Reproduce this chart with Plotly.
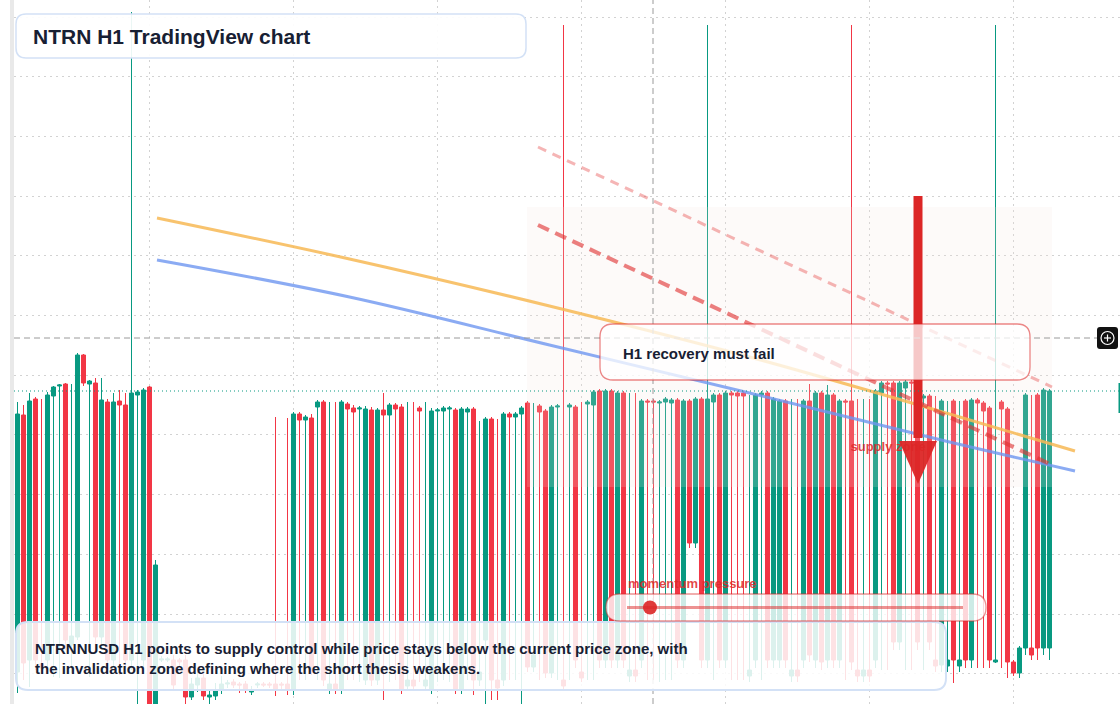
import plotly.graph_objects as go
import pandas as pd

GREEN = "#089981"
RED = "#F23645"
FONT = "Liberation Sans, Arial, sans-serif"
INK = "#172033"

# ---------------- data ----------------
start = pd.Timestamp("2025-11-17 02:00")
times = pd.date_range(start, periods=173, freq="h")

open_ = [
    0.0128, 0.0385, 0.0140, 0.0401, 0.0136, 0.0140, 0.0404, 0.0414, 0.0416, 0.0155,
    0.0163, 0.0445, 0.0416, 0.0417, 0.0163, 0.0398, 0.0140, 0.0399, 0.0395, 0.0140,
    0.0405, 0.0140, 0.0413, 0.0088, 0.0140, 0.0140, 0.0140, 0.0140, 0.0140, 0.0103,
    0.0115, 0.0122, 0.0103, 0.0104, 0.0110, 0.0116, 0.0118, 0.0116, 0.0116, 0.0108,
    0.0115, 0.0116, 0.0116, 0.0116, 0.0116, 0.0116, 0.0110, 0.0386, 0.0380, 0.0382,
    0.0393, 0.0398, 0.0110, 0.0116, 0.0110, 0.0396, 0.0392, 0.0391, 0.0120, 0.0390,
    0.0120, 0.0390, 0.0385, 0.0395, 0.0393, 0.0114, 0.0120, 0.0392, 0.0114, 0.0110,
    0.0389, 0.0389, 0.0391, 0.0390, 0.0110, 0.0388, 0.0391, 0.0120, 0.0160, 0.0381,
    0.0120, 0.0120, 0.0386, 0.0383, 0.0386, 0.0397, 0.0133, 0.0394, 0.0389, 0.0127,
    0.0393, 0.0120, 0.0393, 0.0393, 0.0128, 0.0396, 0.0395, 0.0409, 0.0140, 0.0409,
    0.0140, 0.0407, 0.0124, 0.0130, 0.0140, 0.0399, 0.0399, 0.0397, 0.0398, 0.0397,
    0.0400, 0.0140, 0.0399, 0.0257, 0.0401, 0.0140, 0.0398, 0.0405, 0.0140, 0.0407,
    0.0407, 0.0407, 0.0124, 0.0140, 0.0405, 0.0407, 0.0140, 0.0140, 0.0399, 0.0124,
    0.0130, 0.0140, 0.0399, 0.0140, 0.0407, 0.0140, 0.0405, 0.0140, 0.0399, 0.0399,
    0.0130, 0.0124, 0.0130, 0.0140, 0.0407, 0.0417, 0.0417, 0.0158, 0.0412, 0.0418,
    0.0410, 0.0402, 0.0404, 0.0140, 0.0135, 0.0134, 0.0399, 0.0134, 0.0399, 0.0140,
    0.0400, 0.0397, 0.0392, 0.0138, 0.0398, 0.0391, 0.0138, 0.0127, 0.0152, 0.0152,
    0.0405, 0.0152, 0.0152,
]
high = [
    0.0398, 0.0395, 0.0407, 0.0403, 0.0401, 0.0408, 0.0414, 0.0416, 0.0417, 0.0416,
    0.0447, 0.0446, 0.0420, 0.0422, 0.0422, 0.0401, 0.0407, 0.0410, 0.0407, 0.0788,
    0.0410, 0.0412, 0.0414, 0.0240, 0.0144, 0.0143, 0.0145, 0.0142, 0.0145, 0.0122,
    0.0128, 0.0128, 0.0110, 0.0117, 0.0124, 0.0120, 0.0121, 0.0118, 0.0119, 0.0114,
    0.0118, 0.0118, 0.0118, 0.0383, 0.0118, 0.0382, 0.0388, 0.0388, 0.0385, 0.0386,
    0.0400, 0.0400, 0.0398, 0.0398, 0.0400, 0.0398, 0.0395, 0.0394, 0.0394, 0.0393,
    0.0392, 0.0407, 0.0397, 0.0397, 0.0396, 0.0398, 0.0398, 0.0394, 0.0398, 0.0392,
    0.0392, 0.0394, 0.0394, 0.0392, 0.0393, 0.0393, 0.0393, 0.0379, 0.0383, 0.0383,
    0.0381, 0.0388, 0.0388, 0.0388, 0.0394, 0.0399, 0.0397, 0.0396, 0.0391, 0.0395,
    0.0396, 0.0775, 0.0397, 0.0395, 0.0398, 0.0400, 0.0410, 0.0411, 0.0411, 0.0411,
    0.0409, 0.0409, 0.0407, 0.0407, 0.0401, 0.0401, 0.0401, 0.0400, 0.0403, 0.0402,
    0.0402, 0.0401, 0.0401, 0.0403, 0.0403, 0.0775, 0.0407, 0.0407, 0.0409, 0.0409,
    0.0409, 0.0409, 0.0405, 0.0407, 0.0409, 0.0409, 0.0403, 0.0401, 0.0401, 0.0401,
    0.0401, 0.0401, 0.0416, 0.0409, 0.0409, 0.0415, 0.0407, 0.0401, 0.0401, 0.0775,
    0.0401, 0.0401, 0.0401, 0.0411, 0.0419, 0.0419, 0.0419, 0.0419, 0.0420, 0.0420,
    0.0412, 0.0406, 0.0406, 0.0404, 0.0401, 0.0399, 0.0401, 0.0399, 0.0401, 0.0402,
    0.0402, 0.0399, 0.0394, 0.0775, 0.0400, 0.0393, 0.0140, 0.0154, 0.0407, 0.0405,
    0.0407, 0.0412, 0.0411,
]
low = [
    0.0107, 0.0120, 0.0113, 0.0130, 0.0128, 0.0132, 0.0123, 0.0122, 0.0150, 0.0127,
    0.0160, 0.0414, 0.0123, 0.0150, 0.0155, 0.0135, 0.0132, 0.0125, 0.0132, 0.0130,
    0.0095, 0.0132, 0.0080, 0.0080, 0.0138, 0.0138, 0.0110, 0.0130, 0.0094, 0.0100,
    0.0108, 0.0100, 0.0096, 0.0100, 0.0106, 0.0112, 0.0112, 0.0107, 0.0107, 0.0105,
    0.0112, 0.0113, 0.0112, 0.0104, 0.0110, 0.0105, 0.0105, 0.0120, 0.0120, 0.0125,
    0.0120, 0.0114, 0.0106, 0.0106, 0.0106, 0.0120, 0.0120, 0.0118, 0.0115, 0.0114,
    0.0115, 0.0100, 0.0118, 0.0120, 0.0106, 0.0110, 0.0110, 0.0118, 0.0110, 0.0106,
    0.0118, 0.0120, 0.0118, 0.0106, 0.0106, 0.0120, 0.0105, 0.0114, 0.0096, 0.0100,
    0.0100, 0.0114, 0.0120, 0.0120, 0.0095, 0.0128, 0.0128, 0.0120, 0.0122, 0.0122,
    0.0120, 0.0110, 0.0120, 0.0132, 0.0118, 0.0120, 0.0120, 0.0132, 0.0132, 0.0132,
    0.0132, 0.0132, 0.0118, 0.0118, 0.0132, 0.0120, 0.0120, 0.0118, 0.0120, 0.0120,
    0.0132, 0.0132, 0.0252, 0.0252, 0.0132, 0.0132, 0.0120, 0.0132, 0.0132, 0.0120,
    0.0120, 0.0120, 0.0118, 0.0132, 0.0120, 0.0132, 0.0132, 0.0132, 0.0132, 0.0118,
    0.0118, 0.0132, 0.0138, 0.0132, 0.0130, 0.0132, 0.0132, 0.0132, 0.0120, 0.0130,
    0.0118, 0.0118, 0.0118, 0.0132, 0.0130, 0.0130, 0.0150, 0.0150, 0.0130, 0.0130,
    0.0150, 0.0130, 0.0150, 0.0128, 0.0128, 0.0128, 0.0117, 0.0128, 0.0132, 0.0132,
    0.0132, 0.0132, 0.0132, 0.0137, 0.0132, 0.0122, 0.0124, 0.0122, 0.0145, 0.0140,
    0.0140, 0.0145, 0.0140,
]
close = [
    0.0386, 0.0137, 0.0399, 0.0140, 0.0132, 0.0405, 0.0413, 0.0415, 0.0160, 0.0164,
    0.0445, 0.0417, 0.0419, 0.0163, 0.0400, 0.0140, 0.0398, 0.0395, 0.0140, 0.0407,
    0.0408, 0.0410, 0.0088, 0.0235, 0.0141, 0.0141, 0.0115, 0.0138, 0.0103, 0.0116,
    0.0122, 0.0104, 0.0105, 0.0110, 0.0116, 0.0117, 0.0115, 0.0115, 0.0110, 0.0110,
    0.0116, 0.0115, 0.0115, 0.0110, 0.0115, 0.0110, 0.0386, 0.0380, 0.0383, 0.0133,
    0.0398, 0.0120, 0.0116, 0.0110, 0.0398, 0.0391, 0.0388, 0.0392, 0.0391, 0.0120,
    0.0390, 0.0385, 0.0395, 0.0391, 0.0110, 0.0120, 0.0114, 0.0389, 0.0120, 0.0389,
    0.0390, 0.0392, 0.0392, 0.0110, 0.0391, 0.0391, 0.0120, 0.0128, 0.0381, 0.0120,
    0.0112, 0.0386, 0.0383, 0.0386, 0.0392, 0.0133, 0.0145, 0.0388, 0.0127, 0.0393,
    0.0394, 0.0114, 0.0395, 0.0140, 0.0122, 0.0398, 0.0408, 0.0140, 0.0409, 0.0140,
    0.0407, 0.0140, 0.0130, 0.0124, 0.0399, 0.0398, 0.0398, 0.0398, 0.0401, 0.0400,
    0.0140, 0.0399, 0.0257, 0.0401, 0.0140, 0.0401, 0.0405, 0.0140, 0.0407, 0.0405,
    0.0404, 0.0404, 0.0130, 0.0405, 0.0407, 0.0140, 0.0401, 0.0399, 0.0140, 0.0130,
    0.0124, 0.0399, 0.0145, 0.0407, 0.0138, 0.0405, 0.0140, 0.0399, 0.0398, 0.0138,
    0.0124, 0.0130, 0.0124, 0.0409, 0.0417, 0.0416, 0.0158, 0.0417, 0.0418, 0.0417,
    0.0158, 0.0404, 0.0158, 0.0134, 0.0399, 0.0140, 0.0140, 0.0140, 0.0140, 0.0400,
    0.0397, 0.0389, 0.0140, 0.0140, 0.0391, 0.0138, 0.0127, 0.0152, 0.0405, 0.0145,
    0.0152, 0.0410, 0.0409,
]

# moving-average style guide lines
ema_t = ["2025-11-18 01:15", "2025-11-19 09:20", "2025-11-20 18:40",
         "2025-11-22 04:00", "2025-11-23 13:20", "2025-11-24 10:15"]
ema_fast = [0.0582, 0.0541, 0.0494, 0.0443, 0.0386, 0.0349]
ema_slow = [0.0540, 0.0503, 0.0455, 0.0407, 0.0358, 0.0329]

# descending supply trend lines
trend_t = ["2025-11-20 16:45", "2025-11-24 06:25"]
trend_main = [0.0575, 0.0335]
trend_upper = [0.0653, 0.0413]

last_price = 0.0409
cross_price = 0.0462
cross_time = "2025-11-21 11:55"

# ---------------- helpers ----------------
W, H, L = 1120, 704, 14


def px(x):
    return (x - L) / (W - L)


def py(y):
    return 1 - y / H


def rrect(x0, y0, x1, y1, r):
    rx, ry = r / (W - L), r / H
    X0, X1, Y0, Y1 = px(x0), px(x1), py(y0), py(y1)
    return (f"M{X0+rx},{Y0} L{X1-rx},{Y0} Q{X1},{Y0} {X1},{Y0-ry} "
            f"L{X1},{Y1+ry} Q{X1},{Y1} {X1-rx},{Y1} L{X0+rx},{Y1} "
            f"Q{X0},{Y1} {X0},{Y1+ry} L{X0},{Y0-ry} Q{X0},{Y0} {X0+rx},{Y0} Z")


fig = go.Figure()

fig.add_trace(go.Candlestick(
    x=times, open=open_, high=high, low=low, close=close,
    increasing=dict(line=dict(color=GREEN, width=1), fillcolor=GREEN),
    decreasing=dict(line=dict(color=RED, width=1), fillcolor=RED),
    whiskerwidth=0, showlegend=False, hoverinfo="skip"))

# supply zone (translucent)
zx = ["2025-11-20 14:55", "2025-11-24 06:25", "2025-11-24 06:25", "2025-11-20 14:55", "2025-11-20 14:55"]
zy = [0.0313, 0.0313, 0.0593, 0.0593, 0.0313]
fig.add_trace(go.Scatter(x=zx, y=zy, mode="lines", fill="toself",
                         fillcolor="rgba(245,225,220,0.18)", line=dict(width=0),
                         hoverinfo="skip", showlegend=False))

fig.add_trace(go.Scatter(x=ema_t, y=ema_fast, mode="lines",
                         line=dict(color="rgba(247,185,85,0.85)", width=3, shape="spline"),
                         hoverinfo="skip", showlegend=False))
fig.add_trace(go.Scatter(x=ema_t, y=ema_slow, mode="lines",
                         line=dict(color="rgba(110,150,240,0.8)", width=3, shape="spline"),
                         hoverinfo="skip", showlegend=False))
fig.add_trace(go.Scatter(x=trend_t, y=trend_upper, mode="lines",
                         line=dict(color="rgba(228,60,60,0.38)", width=3, dash="9px,7px"),
                         hoverinfo="skip", showlegend=False))
fig.add_trace(go.Scatter(x=trend_t, y=trend_main, mode="lines",
                         line=dict(color="rgba(225,50,50,0.62)", width=4, dash="12px,7px"),
                         hoverinfo="skip", showlegend=False))

fig.add_trace(go.Scatter(x=["2025-11-22 20:50"], y=[0.0352], mode="text",
                         text=["<b>supply zone</b>"], textposition="middle right",
                         textfont=dict(size=13, color="rgba(222,40,40,0.85)", family=FONT),
                         hoverinfo="skip", showlegend=False))

# big downward arrow
fig.add_trace(go.Scatter(x=["2025-11-23 08:05", "2025-11-23 08:05"], y=[0.0604, 0.0362],
                         mode="lines", line=dict(color="#dc2626", width=9),
                         hoverinfo="skip", showlegend=False))
fig.add_trace(go.Scatter(x=["2025-11-23 04:55", "2025-11-23 11:15", "2025-11-23 08:05", "2025-11-23 04:55"],
                         y=[0.0359, 0.0359, 0.0316, 0.0359], mode="lines", fill="toself",
                         fillcolor="rgba(220,38,38,0.95)", line=dict(width=0),
                         hoverinfo="skip", showlegend=False))

shapes = [
    # left gray strip
    dict(type="rect", xref="paper", yref="paper", x0=px(10), x1=px(14), y0=0, y1=1,
         fillcolor="#e9e9e9", line=dict(width=0), layer="above"),
    # last price dotted line
    dict(type="line", xref="paper", yref="y", x0=0, x1=1, y0=last_price, y1=last_price,
         line=dict(color=GREEN, width=1, dash="1px,3px"), layer="above"),
    # crosshair
    dict(type="line", xref="x", yref="paper", x0=cross_time, x1=cross_time, y0=0, y1=1,
         line=dict(color="#9a9a9a", width=1, dash="6px,4px"), layer="above"),
    dict(type="line", xref="paper", yref="y", x0=0, x1=px(1097), y0=cross_price, y1=cross_price,
         line=dict(color="#9a9a9a", width=1, dash="6px,4px"), layer="above"),
    # crosshair + icon
    dict(type="path", xref="paper", yref="paper", path=rrect(1097, 327, 1118, 349, 3),
         fillcolor="#111111", line=dict(width=0), layer="above"),
    dict(type="circle", xref="paper", yref="paper", x0=px(1101), x1=px(1114), y0=py(344.5), y1=py(331.5),
         line=dict(color="white", width=1.2), fillcolor="rgba(0,0,0,0)", layer="above"),
    dict(type="line", xref="paper", yref="paper", x0=px(1104), x1=px(1111), y0=py(338), y1=py(338),
         line=dict(color="white", width=1.2), layer="above"),
    dict(type="line", xref="paper", yref="paper", x0=px(1107.5), x1=px(1107.5), y0=py(334.5), y1=py(341.5),
         line=dict(color="white", width=1.2), layer="above"),
    dict(type="rect", xref="paper", yref="paper", x0=px(1118.5), x1=px(1120), y0=py(413), y1=py(383),
         fillcolor=GREEN, line=dict(width=0), layer="above"),
    # title box
    dict(type="path", xref="paper", yref="paper", path=rrect(16, 14, 526, 58, 10),
         fillcolor="rgba(255,255,255,0.92)", line=dict(color="#d3e1f6", width=1.5), layer="above"),
    # H1 recovery box
    dict(type="path", xref="paper", yref="paper", path=rrect(600, 324, 1030, 380, 13),
         fillcolor="rgba(255,255,255,0.75)", line=dict(color="rgba(220,38,38,0.55)", width=1.3), layer="above"),
    # bottom commentary box
    dict(type="path", xref="paper", yref="paper", path=rrect(16, 622, 946, 690, 12),
         fillcolor="rgba(255,255,255,0.86)", line=dict(color="#d3e1f6", width=2), layer="above"),
    # momentum pill
    dict(type="path", xref="paper", yref="paper", path=rrect(606, 594, 986, 621, 13.5),
         fillcolor="rgba(255,255,255,0.8)", line=dict(color="rgba(220,38,38,0.5)", width=1.3), layer="above"),
    dict(type="line", xref="paper", yref="paper", x0=px(627), x1=px(963), y0=py(607.5), y1=py(607.5),
         line=dict(color="rgba(220,38,38,0.5)", width=3), layer="above"),
    dict(type="circle", xref="paper", yref="paper", x0=px(643), x1=px(657), y0=py(614.5), y1=py(600.5),
         fillcolor="rgba(220,38,38,0.9)", line=dict(width=0), layer="above"),
]

annotations = [
    dict(text="<b>NTRN H1 TradingView chart</b>", x=px(31), y=py(36),
         font=dict(size=21, color=INK, family=FONT)),
    dict(text="<b>H1 recovery must fail</b>", x=px(621), y=py(353),
         font=dict(size=15, color=INK, family=FONT)),
    dict(text="<b>momentum pressure</b>", x=px(626), y=py(583),
         font=dict(size=13, color="rgba(222,40,40,0.85)", family=FONT)),
    dict(text="<b>NTRNNUSD H1 points to supply control while price stays below the current price zone, with</b>",
         x=px(33), y=py(648), font=dict(size=15, color=INK, family=FONT)),
    dict(text="<b>the invalidation zone defining where the short thesis weakens.</b>",
         x=px(33), y=py(668), font=dict(size=15, color=INK, family=FONT)),
]
for a in annotations:
    a.update(xref="paper", yref="paper", xanchor="left", yanchor="middle", showarrow=False)

fig.update_layout(
    width=W, height=H, autosize=False,
    margin=dict(l=L, r=0, t=0, b=0, pad=0),
    paper_bgcolor="white", plot_bgcolor="white",
    showlegend=False, boxgap=0.33, boxgroupgap=0,
    shapes=shapes, annotations=annotations,
    xaxis=dict(type="date", range=[start - pd.Timedelta(minutes=35), start + pd.Timedelta(hours=183.75)],
               showgrid=True, gridcolor="#d2d2d2", griddash="2px,4px", gridwidth=1,
               dtick=86400000, tick0="2025-11-18 00:00", showticklabels=False, ticks="",
               zeroline=False, showline=False, rangeslider=dict(visible=False), fixedrange=True),
    yaxis=dict(range=[0.0096, 0.0800], tick0=0.0783, dtick=0.00597,
               showgrid=True, gridcolor="#d2d2d2", griddash="2px,4px", gridwidth=1,
               showticklabels=False, ticks="", zeroline=False, showline=False, fixedrange=True),
)

fig.write_html("out.html", config={"displayModeBar": False})
